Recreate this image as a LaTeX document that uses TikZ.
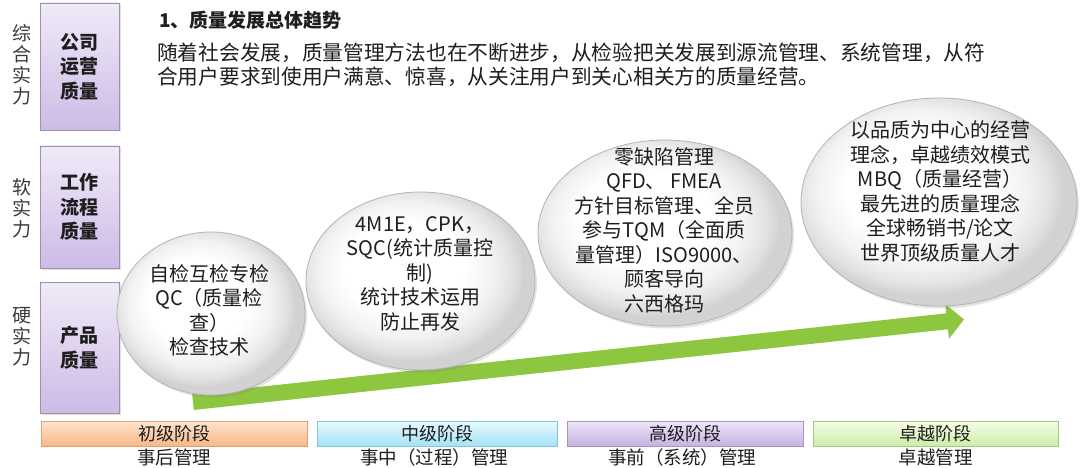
\documentclass[tikz,border=0pt]{standalone}
\usepackage{fontspec}
\setmainfont{Noto Sans CJK SC}
\usetikzlibrary{shapes.geometric,shadows,arrows.meta}
\definecolor{txt}{HTML}{1E1E1E}
\definecolor{sidetxt}{HTML}{3A3A3A}
\definecolor{boxtop}{HTML}{F0EAF8}
\definecolor{boxbot}{HTML}{CDBBE6}
\definecolor{boxline}{HTML}{9C92AC}
\definecolor{bubrim}{HTML}{D2D2D2}
\definecolor{bubline}{HTML}{B4B4B4}
\definecolor{arrgreen}{HTML}{8DC63F}
\definecolor{orgtop}{HTML}{FDE5D0}
\definecolor{orgbot}{HTML}{F8B788}
\definecolor{orgline}{HTML}{E2A070}
\definecolor{cyntop}{HTML}{E8FAFF}
\definecolor{cynbot}{HTML}{A4E2F6}
\definecolor{cynline}{HTML}{84C4DC}
\definecolor{purtop}{HTML}{EEE6F8}
\definecolor{purbot}{HTML}{C6B2E2}
\definecolor{purline}{HTML}{A496BE}
\definecolor{grntop}{HTML}{F4FDE8}
\definecolor{grnbot}{HTML}{CCEDA8}
\definecolor{grnline}{HTML}{A6CA86}
\pgfdeclareradialshading{bubshade}{\pgfpoint{-5bp}{5bp}}{color(0bp)=(white); color(13bp)=(white); color(19bp)=(white!95!black); color(23bp)=(white!88!black); color(25bp)=(bubrim); color(50bp)=(bubrim)}
\begin{document}
\begin{tikzpicture}[x=1pt,y=-1pt,
  sidelabel/.style={text=sidetxt, font=\fontsize{19}{21}\selectfont, align=center, inner sep=0pt},
  qualbox/.style={draw=boxline, line width=0.8pt, top color=boxtop, bottom color=boxbot,
    minimum width=79pt, inner sep=0pt, align=center, text=txt,
    font=\bfseries\fontsize{19}{24.5}\selectfont,
    drop shadow={opacity=0.25, shadow xshift=1.5pt, shadow yshift=-1.5pt}},
  bubble/.style={ellipse, draw=bubline, line width=0.8pt, shading=bubshade, inner sep=0pt,
    drop shadow={opacity=0.22, shadow xshift=2pt, shadow yshift=-2.5pt}},
  bubtext/.style={align=center, text=txt, inner sep=0pt, font=\fontsize{20}{24.5}\selectfont},
  stagebar/.style={draw, line width=0.7pt, minimum height=25pt, inner sep=0pt, text=txt,
    font=\fontsize{18}{20}\selectfont,
    drop shadow={opacity=0.2, shadow xshift=1pt, shadow yshift=-1pt}},
  stagesub/.style={text=txt, inner sep=0pt, font=\fontsize{18.5}{20}\selectfont}
]
\useasboundingbox[fill=white] (0,0) rectangle (1080,468);

% side labels
\node[sidelabel] (sl1) at (22,65) {综\\合\\实\\力};
\node[sidelabel] (sl2) at (22,208) {软\\实\\力};
\node[sidelabel] (sl3) at (22,337) {硬\\实\\力};

% quality boxes
\node[qualbox, minimum height=127pt] (q1) at (79.5,66.5) {公司\\运营\\质量};
\node[qualbox, minimum height=122pt] (q2) at (79.5,207) {工作\\流程\\质量};
\node[qualbox, minimum height=131pt] (q3) at (79.5,348) {产品\\质量};

% title and paragraph
\node[anchor=west, inner sep=0pt, text=txt, font=\bfseries\fontsize{19}{22}\selectfont] (title) at (159,20) {1、质量发展总体趋势};
\node[anchor=north west, inner sep=0pt, text=txt, align=left, font=\fontsize{20.7}{23.5}\selectfont] (para) at (157,43)
  {随着社会发展，质量管理方法也在不断进步，从检验把关发展到源流管理、系统管理，从符\\合用户要求到使用户满意、惊喜，从关注用户到关心相关方的质量经营。};

% green arrow
\coordinate (aS) at (193,402);
\coordinate (aE) at (964,319.5);
\draw[line width=16pt, color=arrgreen, -{Triangle[length=17pt,width=34pt]}] (aS) -- (aE);

% bubbles
\node[bubble, minimum width=188pt, minimum height=163pt] (b1) at (211,313.5) {};
\node[bubble, minimum width=229pt, minimum height=178pt] (b2) at (420.5,281) {};
\node[bubble, minimum width=254pt, minimum height=186pt] (b3) at (665,233) {};
\node[bubble, minimum width=276pt, minimum height=208pt] (b4) at (939,202) {};

\node[bubtext] (t1) at (209,310.5) {自检互检专检\\QC（质量检\\查）\\检查技术};
\node[bubtext] (t2) at (420,273.5) {4M1E，CPK，\\SQC(统计质量控\\制)\\统计技术运用\\防止再发};
\node[bubtext] (t3) at (664,230) {零缺陷管理\\QFD、 FMEA\\方针目标管理、全员\\参与TQM（全面质\\量管理）ISO9000、\\顾客导向\\六西格玛};
\node[bubtext] (t4) at (940,191.5) {以品质为中心的经营\\理念，卓越绩效模式\\MBQ（质量经营）\\最先进的质量理念\\全球畅销书/论文\\世界顶级质量人才};

% stage bars
\node[stagebar, draw=orgline, top color=orgtop, bottom color=orgbot, minimum width=266pt] (s1) at (174,433.5) {初级阶段};
\node[stagebar, draw=cynline, top color=cyntop, bottom color=cynbot, minimum width=240pt] (s2) at (437,433.5) {中级阶段};
\node[stagebar, draw=purline, top color=purtop, bottom color=purbot, minimum width=236pt] (s3) at (685,433.5) {高级阶段};
\node[stagebar, draw=grnline, top color=grntop, bottom color=grnbot, minimum width=245pt] (s4) at (935.5,433.5) {卓越阶段};

\node[stagesub] (m1) at (174,457.5) {事后管理};
\node[stagesub] (m2) at (434,457.5) {事中（过程）管理};
\node[stagesub] (m3) at (682,457.5) {事前（系统）管理};
\node[stagesub] (m4) at (935.5,457.5) {卓越管理};
\end{tikzpicture}
\end{document}
